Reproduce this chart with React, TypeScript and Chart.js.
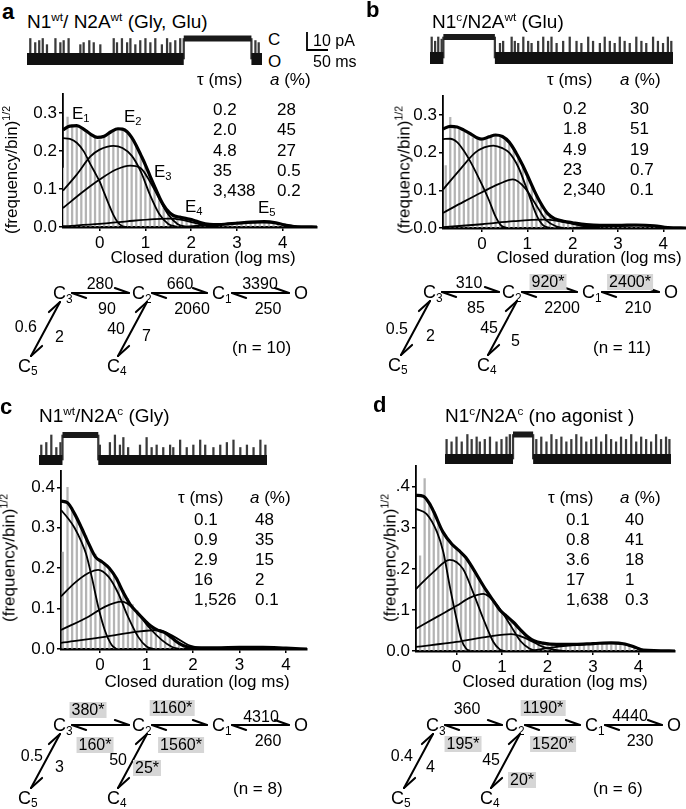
import React, { useEffect, useRef } from 'react';
import { Chart, registerables } from 'chart.js';

Chart.register(...registerables);

const FONT = '"Liberation Sans", Arial, Helvetica, sans-serif';
type Pt = [number, number];

// ---------------- histogram data ----------------
const BIN_CENTERS = [-0.8,-0.7,-0.6,-0.5,-0.4,-0.3,-0.2,-0.1,0,0.1,0.2,0.3,0.4,0.5,0.6,0.7,0.8,0.9,1,1.1,1.2,1.3,1.4,1.5,1.6,1.7,1.8,1.9,2,2.1,2.2,2.3,2.4,2.5,2.6,2.7,2.8,2.9,3,3.1,3.2,3.3,3.4,3.5,3.6,3.7,3.8,3.9,4,4.1,4.2,4.3,4.4,4.5];
const X_TICKS = [0, 1, 2, 3, 4];
const Y_TICKS_AB = [0, 0.1, 0.2, 0.3];
const Y_LABELS_AB = ['0.0', '0.1', '0.2', '0.3'];
const Y_TICKS_CD = [0, 0.1, 0.2, 0.3, 0.4];
const Y_LABELS_C = ['0.0', '0.1', '0.2', '0.3', '0.4'];
const Y_LABELS_D = ['0.0', '.1', '.2', '.3', '.4'];

const A_BARS = [0.155,0.29,0.27,0.265,0.26,0.25,0.245,0.235, 0.23,0.24,0.245,0.255,0.26,0.255,0.245,0.235,0.215,0.19, 0.165,0.135,0.11,0.085,0.06,0.045,0.035,0.028,0.025,0.022, 0.02,0.016,0.013,0.01,0.008,0.006,0.006,0.007,0.008,0.009, 0.01,0.011,0.012,0.013,0.013,0.014,0.013,0.012,0.011,0.008, 0.006,0.004,0.002,0.001,0,0];
const B_BARS = [0.166,0.294,0.27,0.262,0.255,0.25,0.24,0.235, 0.23,0.236,0.245,0.246,0.24,0.235,0.222,0.205,0.185,0.16, 0.135,0.11,0.085,0.06,0.045,0.033,0.025,0.02,0.017,0.015, 0.013,0.011,0.01,0.009,0.008,0.007,0.007,0.007,0.007,0.007, 0.007,0.007,0.008,0.008,0.008,0.008,0.007,0.007,0.006,0.005, 0.004,0.002,0,0,0,0];
const C_BARS = [0.24,0.40,0.35,0.325,0.30,0.28,0.25,0.235, 0.22,0.21,0.2,0.18,0.165,0.145,0.125,0.11,0.095,0.08, 0.068,0.058,0.05,0.045,0.04,0.034,0.025,0.017,0.01,0.007, 0.005,0.004,0.004,0.004,0.004,0.004,0.004,0.004,0.004,0.004, 0.004,0.004,0.005,0.005,0.004,0.004,0.004,0.003,0.003,0.003, 0.002,0.001,0,0,0,0];
const D_BARS = [0.232,0.42,0.36,0.34,0.31,0.29,0.27,0.26, 0.25,0.24,0.225,0.21,0.19,0.17,0.155,0.14,0.12,0.105, 0.095,0.085,0.075,0.062,0.05,0.04,0.03,0.024,0.02,0.018, 0.017,0.016,0.016,0.016,0.016,0.016,0.016,0.016,0.017,0.017, 0.018,0.019,0.02,0.02,0.02,0.019,0.017,0.015,0.012,0.008, 0.005,0.002,0,0,0,0];

const A_TOTAL: Pt[] = [[-0.8,0.256],[-0.65,0.266],[-0.5,0.267],[-0.35,0.258],[-0.2,0.245],[-0.05,0.236],[0.1,0.239],[0.25,0.251],[0.4,0.259],[0.5,0.258],[0.6,0.251],[0.7,0.236],[0.8,0.215],[0.9,0.19],[1.0,0.164],[1.1,0.135],[1.2,0.107],[1.3,0.08],[1.4,0.057],[1.5,0.041],[1.6,0.031],[1.75,0.026],[1.9,0.022],[2.05,0.018],[2.2,0.012],[2.4,0.007],[2.6,0.006],[2.8,0.008],[3.0,0.010],[3.3,0.013],[3.6,0.014],[3.85,0.011],[4.05,0.005],[4.25,0.001],[4.75,0]];
const A_E1: Pt[] = [[-0.8,0.234],[-0.65,0.232],[-0.5,0.222],[-0.35,0.2],[-0.2,0.165],[-0.1,0.143],[0,0.12],[0.1,0.09],[0.2,0.06],[0.3,0.032],[0.4,0.012],[0.5,0.002],[0.6,0]];
const A_E2: Pt[] = [[-0.8,0.096],[-0.5,0.138],[-0.2,0.186],[0,0.204],[0.3,0.214],[0.5,0.208],[0.7,0.188],[0.9,0.146],[1.1,0.085],[1.3,0.035],[1.5,0.008],[1.7,0]];
const A_E3: Pt[] = [[-0.8,0.05],[-0.35,0.094],[0,0.125],[0.35,0.151],[0.67,0.162],[0.9,0.155],[1.1,0.12],[1.3,0.075],[1.5,0.033],[1.7,0.008],[1.9,0]];
const A_E4: Pt[] = [[-0.8,0.002],[0,0.008],[0.6,0.015],[1.2,0.021],[1.5,0.022],[1.8,0.019],[2.1,0.01],[2.4,0.002],[2.6,0]];
const A_E5: Pt[] = [[1.8,0],[2.5,0.006],[3.0,0.01],[3.5,0.012],[3.8,0.011],[4.1,0.005],[4.4,0]];

const B_TOTAL: Pt[] = [[-0.86,0.263],[-0.7,0.27],[-0.55,0.268],[-0.4,0.26],[-0.25,0.25],[-0.1,0.239],[0,0.236],[0.15,0.242],[0.3,0.247],[0.45,0.243],[0.6,0.228],[0.75,0.2],[0.9,0.166],[1.0,0.14],[1.15,0.1],[1.3,0.065],[1.45,0.038],[1.6,0.025],[1.8,0.018],[2.0,0.014],[2.3,0.009],[2.6,0.007],[3.0,0.007],[3.4,0.008],[3.8,0.006],[4.1,0.001],[4.5,0]];
const B_E1: Pt[] = [[-0.86,0.236],[-0.7,0.237],[-0.55,0.228],[-0.4,0.205],[-0.25,0.175],[-0.1,0.14],[0,0.115],[0.15,0.075],[0.3,0.03],[0.42,0.007],[0.55,0]];
const B_E2: Pt[] = [[-0.86,0.102],[-0.5,0.153],[-0.15,0.2],[0.05,0.214],[0.25,0.219],[0.45,0.212],[0.6,0.2],[0.8,0.162],[1.0,0.1],[1.2,0.035],[1.35,0.007],[1.5,0]];
const B_E3: Pt[] = [[-0.86,0.04],[-0.4,0.07],[0,0.095],[0.38,0.117],[0.68,0.129],[0.95,0.106],[1.2,0.06],[1.42,0.02],[1.65,0.004],[1.8,0]];
const B_E4: Pt[] = [[-0.86,0.002],[0,0.01],[0.7,0.018],[1.36,0.022],[1.7,0.018],[2.0,0.011],[2.3,0.004],[2.6,0]];
const B_E5: Pt[] = [[2.0,0],[2.6,0.004],[3.0,0.006],[3.4,0.007],[3.8,0.005],[4.1,0.001],[4.3,0]];

const C_TOTAL: Pt[] = [[-0.84,0.366],[-0.7,0.362],[-0.55,0.335],[-0.4,0.3],[-0.25,0.262],[-0.1,0.228],[0.05,0.215],[0.2,0.2],[0.35,0.175],[0.5,0.14],[0.65,0.11],[0.8,0.09],[0.95,0.072],[1.1,0.056],[1.25,0.046],[1.4,0.04],[1.55,0.027],[1.7,0.014],[1.85,0.006],[2.0,0.003],[2.5,0.003],[3.0,0.004],[3.5,0.004],[4.0,0.002],[4.45,0]];
const C_E1: Pt[] = [[-0.84,0.344],[-0.7,0.325],[-0.55,0.3],[-0.4,0.265],[-0.3,0.235],[-0.18,0.179],[-0.04,0.105],[0.1,0.047],[0.25,0.01],[0.35,0]];
const C_E2: Pt[] = [[-0.84,0.13],[-0.55,0.163],[-0.25,0.188],[-0.04,0.196],[0.18,0.179],[0.39,0.138],[0.6,0.08],[0.82,0.03],[1.0,0.006],[1.15,0]];
const C_E3: Pt[] = [[-0.84,0.047],[-0.25,0.08],[0.11,0.105],[0.47,0.117],[0.75,0.097],[1.04,0.055],[1.33,0.022],[1.55,0.005],[1.7,0]];
const C_E4: Pt[] = [[-0.84,0.015],[0.1,0.03],[0.8,0.043],[1.25,0.047],[1.6,0.03],[1.9,0.01],[2.2,0.002],[2.4,0]];
const C_E5: Pt[] = [[1.8,0],[2.5,0.003],[3.2,0.004],[3.8,0.003],[4.2,0]];

const D_TOTAL: Pt[] = [[-0.89,0.379],[-0.73,0.377],[-0.6,0.36],[-0.5,0.339],[-0.3,0.29],[-0.1,0.26],[0.05,0.245],[0.2,0.228],[0.35,0.203],[0.5,0.175],[0.65,0.148],[0.8,0.124],[0.95,0.1],[1.1,0.085],[1.25,0.07],[1.4,0.052],[1.55,0.036],[1.7,0.025],[1.9,0.019],[2.2,0.016],[2.6,0.016],[3.0,0.018],[3.4,0.02],[3.7,0.017],[3.95,0.008],[4.1,0.002],[4.8,0]];
const D_E1: Pt[] = [[-0.89,0.346],[-0.66,0.334],[-0.43,0.29],[-0.29,0.241],[-0.15,0.159],[0,0.078],[0.1,0.03],[0.21,0.006],[0.3,0]];
const D_E2: Pt[] = [[-0.89,0.151],[-0.51,0.192],[-0.15,0.222],[0.14,0.2],[0.36,0.144],[0.59,0.078],[0.81,0.022],[0.95,0.004],[1.05,0]];
const D_E3: Pt[] = [[-0.89,0.054],[-0.4,0.085],[0,0.11],[0.3,0.13],[0.59,0.139],[0.85,0.118],[1.03,0.09],[1.2,0.06],[1.4,0.025],[1.6,0.006],[1.75,0]];
const D_E4: Pt[] = [[-0.89,0.01],[0,0.022],[0.7,0.035],[1.2,0.041],[1.5,0.032],[1.9,0.01],[2.2,0.002],[2.4,0]];
const D_E5: Pt[] = [[1.6,0],[2.2,0.01],[2.8,0.016],[3.3,0.02],[3.7,0.016],[4.0,0.006],[4.2,0]];

// ---------------- fit tables ----------------
const TAU_A = ['0.2', '2.0', '4.8', '35', '3,438'];
const AMP_A = ['28', '45', '27', '0.5', '0.2'];
const TAU_B = ['0.2', '1.8', '4.9', '23', '2,340'];
const AMP_B = ['30', '51', '19', '0.7', '0.1'];
const TAU_C = ['0.1', '0.9', '2.9', '16', '1,526'];
const AMP_C = ['48', '35', '15', '2', '0.1'];
const TAU_D = ['0.1', '0.8', '3.6', '17', '1,638'];
const AMP_D = ['40', '41', '18', '1', '0.3'];

// ---------------- kinetic schemes ----------------
// order: C3>C2, C2>C3, C2>C1, C1>C2, C1>O, O>C1, C3>C5, C5>C3, C2>C4, C4>C2
const RATES_A = ['280', '90', '660', '2060', '3390', '250', '0.6', '2', '40', '7'];
const RATES_B = ['310', '85', '920*', '2200', '2400*', '210', '0.5', '2', '45', '5'];
const RATES_C = ['380*', '160*', '1160*', '1560*', '4310', '260', '0.5', '3', '50', '25*'];
const RATES_D = ['360', '195*', '1190*', '1520*', '4440', '230', '0.4', '4', '45', '20*'];
const N_A = 10, N_B = 11, N_C = 8, N_D = 6;

// ---------------- single-channel traces ----------------
const TRACE_A_SPIKES = [1.4,3.5,5.2,6.7,8.5,12.1,14.2,15.6,17.7,22.7,24.1,26.5,28.4,31.2,36.9,38.3,40.4,42.6,44.0,46.1,48.2,50.4,52.5,54.6,57.4,59.6,61.0,63.1,65.2,97.2,98.6];
const TRACE_A_HEIGHTS = [1,0.8,0.9,1,0.7,1,0.8,0.9,1,0.7,0.8,0.9,0.8,0.7,1,0.8,1,0.8,1,0.7,0.9,1,0.8,1,0.7,1,0.8,0.9,1,0.9,0.8];
const TRACE_A_CLOSED: Pt[] = [[66.7, 95.5]];
const TRACE_B_SPIKES = [0.7,2.1,3.4,4.8,28.8,30.1,33.6,34.9,36.3,38.4,40.4,41.8,44.5,46.6,48.6,50.0,52.1,54.8,57.5,60.3,62.3,65.1,67.1,69.9,71.9,74.0,76.0,78.1,80.1,82.2,84.9,87.0,89.0,91.8,93.8,95.9,97.9,99.3];
const TRACE_B_HEIGHTS = [1,0.8,1,0.9,0.7,0.8,1,0.8,0.7,1,0.8,0.7,0.8,1,0.8,1,0.7,0.8,1,0.8,0.7,1,0.8,0.7,1,0.8,0.7,1,0.8,0.7,1,0.8,0.7,1,0.8,0.7,1,0.8];
const TRACE_B_CLOSED: Pt[] = [[5.5, 26.7]];
const TRACE_C_SPIKES = [1.0,3.2,5.4,7.6,9.4,26.7,31.1,33.3,35.5,37.0,39.1,44.3,47.2,49.4,51.6,54.5,57.5,58.9,61.9,64.8,67.7,70.7,72.9,76.5,79.5,82.4,85.3,88.3,91.2,94.1,97.1,99.3];
const TRACE_C_HEIGHTS = [0.6,0.7,1,0.5,0.7,0.6,0.7,1,0.6,0.9,0.5,0.6,0.9,0.5,0.6,0.5,0.6,0.5,0.8,0.5,0.6,0.8,0.6,0.5,0.6,0.7,0.8,0.5,0.6,0.5,0.8,0.6];
const TRACE_C_CLOSED: Pt[] = [[10.3, 26.0]];
const TRACE_D_SPIKES = [0.7,2.9,5.1,7.4,9.9,11.8,14.0,15.4,17.6,19.9,22.8,25.0,27.2,28.7,40.4,42.6,44.9,47.1,49.3,51.5,53.7,55.9,58.1,60.3,62.5,64.7,66.9,69.1,71.3,73.5,75.7,77.9,80.1,82.4,84.6,86.8,89.0,91.2,93.4,95.6,97.8,99.3];
const TRACE_D_HEIGHTS = [0.8,0.7,0.9,0.7,1,0.8,0.9,0.7,0.8,0.9,0.7,0.8,0.9,1,0.8,0.9,0.7,1,0.8,0.9,0.7,0.8,1,0.9,0.7,0.8,0.9,0.7,1,0.8,0.7,0.9,0.8,1,0.7,0.9,0.8,0.7,1,0.8,0.9,0.8];
const TRACE_D_CLOSED: Pt[] = [[30.1, 39.0]];

// ================= components =================
const toXY = (p: Pt[]) => p.map(([x, y]) => ({ x, y }));

function Histogram(props: {
  axisX: number; baseY: number; topY: number; rightX: number;
  xMin: number; xMax: number; yMax: number;
  yTicks: number[]; yLabels: string[];
  bars: number[]; total: Pt[]; comps: Pt[][];
}) {
  const ref = useRef<HTMLCanvasElement>(null);
  const yW = 58, xH = 30, padTop = 12;
  const left = props.axisX - yW;
  const top = props.topY - padTop;
  const width = Math.min(686 - left, props.rightX - left + 6);
  const padRight = width - (props.rightX - left);
  const height = props.baseY - top + xH;
  useEffect(() => {
    const font = { family: FONT, size: 17 };
    const chart = new Chart(ref.current as HTMLCanvasElement, {
      type: 'bar',
      data: {
        datasets: [
          ...props.comps.map((c) => ({
            type: 'line' as const, data: toXY(c), borderColor: '#000', borderWidth: 1.8,
            pointRadius: 0, cubicInterpolationMode: 'monotone' as const, fill: false, order: 1,
          })),
          {
            type: 'line' as const, data: toXY(props.total), borderColor: '#000', borderWidth: 3.2,
            pointRadius: 0, cubicInterpolationMode: 'monotone' as const, fill: false, order: 0,
          },
          {
            type: 'bar' as const, data: BIN_CENTERS.map((x, i) => ({ x, y: props.bars[i] })),
            backgroundColor: '#b4b4b4', barThickness: 1.6, order: 2,
          },
        ] as any,
      },
      options: {
        animation: false,
        responsive: false,
        maintainAspectRatio: false,
        layout: { padding: { top: padTop, right: padRight, left: 0, bottom: 0 } },
        plugins: { legend: { display: false }, tooltip: { enabled: false } },
        scales: {
          x: {
            type: 'linear', min: props.xMin, max: props.xMax, offset: false,
            afterBuildTicks: (s: any) => { s.ticks = X_TICKS.map((v) => ({ value: v })); },
            afterFit: (s: any) => { s.height = xH; },
            ticks: { color: '#000', font, padding: 2, maxRotation: 0, autoSkip: false, callback: (v: any) => String(v) },
            grid: { display: true, drawOnChartArea: false, drawTicks: true, tickLength: 4, color: '#000', lineWidth: 1.5, offset: false },
            border: { display: true, color: '#000', width: 2.5 },
          },
          y: {
            type: 'linear', min: 0, max: props.yMax,
            afterBuildTicks: (s: any) => { s.ticks = props.yTicks.map((v) => ({ value: v })); },
            afterFit: (s: any) => { s.width = yW; },
            ticks: { color: '#000', font, padding: 2, autoSkip: false, callback: (_v: any, i: number) => props.yLabels[i] },
            grid: { display: true, drawOnChartArea: false, drawTicks: true, tickLength: 4, color: '#000', lineWidth: 1.5 },
            border: { display: true, color: '#000', width: 1.8 },
          },
        },
      } as any,
    });
    return () => chart.destroy();
  }, []);
  return (
    <canvas ref={ref} width={width} height={height}
      style={{ position: 'absolute', left, top, width, height, display: 'block' }} />
  );
}

function Trace(props: {
  left: number; top: number; width: number; height: number;
  closedY: number; openY: number; band: number;
  spikes: number[]; heights: number[]; closed: Pt[];
}) {
  const ref = useRef<HTMLCanvasElement>(null);
  useEffect(() => {
    const ppu = (props.openY - props.closedY) / 10;
    const yMax = 10 + (props.closedY - props.top) / ppu;
    const yMin = -((props.top + props.height) - props.openY) / ppu;
    const openBand: any[] = [{ x: 0, y: 0 }];
    const closedBand: any[] = [];
    const edges: any[] = [];
    props.closed.forEach(([s, e]) => {
      openBand.push({ x: s, y: 0 }, { x: (s + e) / 2, y: null }, { x: e, y: 0 });
      closedBand.push({ x: s, y: 10 }, { x: e, y: 10 }, { x: e + 0.01, y: null });
      edges.push({ x: s, y: [0, 10] }, { x: e, y: [0, 10] });
    });
    openBand.push({ x: 100, y: 0 });
    const chart = new Chart(ref.current as HTMLCanvasElement, {
      type: 'bar',
      data: {
        datasets: [
          { type: 'line', data: openBand, borderColor: '#111', borderWidth: props.band, pointRadius: 0, spanGaps: false, order: 1 },
          { type: 'line', data: closedBand, borderColor: '#1a1a1a', borderWidth: 6, pointRadius: 0, spanGaps: false, order: 1 },
          {
            type: 'bar',
            data: [...props.spikes.map((x, i) => ({ x, y: [0, props.heights[i] * 10] })), ...edges],
            backgroundColor: '#3a3a3a', barThickness: 1.6, order: 2,
          },
        ] as any,
      },
      options: {
        animation: false, responsive: false, maintainAspectRatio: false,
        layout: { padding: 0 },
        plugins: { legend: { display: false }, tooltip: { enabled: false } },
        scales: {
          x: { type: 'linear', min: 0, max: 100, display: false, offset: false },
          y: { type: 'linear', min: yMin, max: yMax, display: false },
        },
      } as any,
    });
    return () => chart.destroy();
  }, []);
  return (
    <canvas ref={ref} width={props.width} height={props.height}
      style={{ position: 'absolute', left: props.left, top: props.top, width: props.width, height: props.height, display: 'block' }} />
  );
}

function T(props: { x: number; y: number; size?: number; anchor?: 'start' | 'middle' | 'end'; bold?: boolean; italic?: boolean; bg?: string; children: any }) {
  const size = props.size ?? 17;
  const tx = props.anchor === 'middle' ? '-50%' : props.anchor === 'end' ? '-100%' : '0';
  return (
    <div style={{
      position: 'absolute', left: props.x, top: props.y - 0.8465 * size, fontSize: size, lineHeight: 1,
      whiteSpace: 'nowrap', transform: `translateX(${tx})`, fontWeight: props.bold ? 'bold' : 'normal',
      fontStyle: props.italic ? 'italic' : 'normal', background: props.bg, padding: props.bg ? '0 2px' : 0,
    }}>{props.children}</div>
  );
}

const Sup = ({ children }: any) => <span style={{ fontSize: '0.62em', position: 'relative', top: '-0.62em' }}>{children}</span>;
const Sub = ({ children }: any) => <span style={{ fontSize: '0.66em', position: 'relative', top: '0.3em' }}>{children}</span>;

function YTitle({ cx, cy }: { cx: number; cy: number }) {
  return (
    <div style={{ position: 'absolute', left: cx, top: cy, fontSize: 17, lineHeight: 1, whiteSpace: 'nowrap', transform: 'translate(-50%,-50%) rotate(-90deg)' }}>
      (frequency/bin)<Sup>1/2</Sup>
    </div>
  );
}

function FitTable({ hx, ax, vx, avx, hy, rowY, tau, amp }: { hx: number; ax: number; vx: number; avx: number; hy: number; rowY: number[]; tau: string[]; amp: string[] }) {
  return (
    <>
      <T x={hx} y={hy}>τ (ms)</T>
      <T x={ax} y={hy}><i>a</i> (%)</T>
      {tau.map((t, i) => <T key={'t' + i} x={vx} y={rowY[i]}>{t}</T>)}
      {amp.map((t, i) => <T key={'a' + i} x={avx} y={rowY[i]}>{t}</T>)}
    </>
  );
}

function barb(px: number, py: number, dx: number, dy: number) {
  const L = 15, ang = 0.34;
  const c = Math.cos(ang), s = Math.sin(ang);
  const rx = c * dx - s * dy, ry = s * dx + c * dy;
  return [px - L * rx, py - L * ry];
}

function Arrow2({ x1, y1, x2, y2 }: { x1: number; y1: number; x2: number; y2: number }) {
  const len = Math.hypot(x2 - x1, y2 - y1);
  const dx = (x2 - x1) / len, dy = (y2 - y1) / len;
  const [bx, by] = barb(x2, y2, dx, dy);
  const [ax, ay] = barb(x1, y1, -dx, -dy);
  return (
    <g stroke="#000" strokeWidth={2} fill="none" strokeLinecap="round">
      <line x1={x1} y1={y1} x2={x2} y2={y2} />
      <line x1={x2} y1={y2} x2={bx} y2={by} />
      <line x1={x1} y1={y1} x2={ax} y2={ay} />
    </g>
  );
}

type LabelPos = [number, number, 'start' | 'middle' | 'end'];

function Scheme({ ox, oy, rates, pos, n, nPos }: { ox: number; oy: number; rates: string[]; pos: LabelPos[]; n: number; nPos: [number, number] }) {
  const st = (name: string, sub: string | null, rx: number, ry: number) => (
    <T x={ox + rx} y={oy + ry} size={18}>{name}{sub ? <Sub>{sub}</Sub> : null}</T>
  );
  return (
    <>
      <svg width={686} height={809} style={{ position: 'absolute', left: 0, top: 0, overflow: 'visible' }}>
        <Arrow2 x1={ox + 19} y1={oy} x2={ox + 76} y2={oy} />
        <Arrow2 x1={ox + 99} y1={oy} x2={ox + 154} y2={oy} />
        <Arrow2 x1={ox + 179} y1={oy} x2={ox + 236} y2={oy} />
        <Arrow2 x1={ox + 7} y1={oy + 9} x2={ox - 22} y2={oy + 63} />
        <Arrow2 x1={ox + 94} y1={oy + 9} x2={ox + 65} y2={oy + 63} />
      </svg>
      {st('C', '3', 0, 6.5)}
      {st('C', '2', 79, 6.5)}
      {st('C', '1', 159, 6.5)}
      {st('O', null, 241, 6.5)}
      {st('C', '5', -35, 79)}
      {st('C', '4', 54, 79)}
      {rates.map((r, i) => (
        <T key={i} x={ox + pos[i][0]} y={oy + pos[i][1]} size={16} anchor={pos[i][2]}
          bg={r.endsWith('*') ? '#d6d6d6' : undefined}>{r}</T>
      ))}
      <T x={ox + nPos[0]} y={oy + nPos[1]} size={17}>(n = {n})</T>
    </>
  );
}

const POS_A: LabelPos[] = [[47, -3, 'middle'], [54, 22, 'middle'], [127, -3, 'middle'], [139, 22, 'middle'], [207, -3, 'middle'], [215, 22, 'middle'], [-16, 40, 'end'], [2, 50, 'start'], [72, 42, 'end'], [89, 49, 'start']];
const POS_B: LabelPos[] = [[46, -3, 'middle'], [53, 22, 'middle'], [125, -4, 'middle'], [139, 22, 'middle'], [207, -4, 'middle'], [215, 22, 'middle'], [-15, 43, 'end'], [3, 50, 'start'], [75, 42, 'end'], [88, 55, 'start']];
const POS_C: LabelPos[] = [[35, -9, 'middle'], [42, 26, 'middle'], [119, -11, 'middle'], [128, 26, 'middle'], [208, -2, 'middle'], [215, 22, 'middle'], [-10, 37, 'end'], [2, 48, 'start'], [74, 41, 'end'], [80, 49, 'start']];
const POS_D: LabelPos[] = [[41, -10, 'middle'], [37, 25, 'middle'], [117, -11, 'middle'], [127, 25, 'middle'], [204, -3, 'middle'], [214, 22, 'middle'], [-13, 37, 'end'], [0, 48, 'start'], [74, 41, 'end'], [82, 61, 'start']];

export default function App() {
  return (
    <div style={{ position: 'absolute', left: 0, top: 0, width: 686, height: 809, background: '#fff', fontFamily: FONT, color: '#000', overflow: 'hidden' }}>
      {/* ---------- panel a ---------- */}
      <T x={2} y={20} size={22} bold>a</T>
      <T x={27} y={28} size={19}>N1<Sup>wt</Sup>/ N2A<Sup>wt</Sup> (Gly, Glu)</T>
      <Trace left={27} top={28} width={235} height={42} closedY={38.5} openY={59} band={12}
        spikes={TRACE_A_SPIKES} heights={TRACE_A_HEIGHTS} closed={TRACE_A_CLOSED} />
      <T x={268} y={45}>C</T>
      <T x={268} y={67}>O</T>
      <svg width={686} height={809} style={{ position: 'absolute', left: 0, top: 0 }}>
        <polyline points="307,32 307,50 328,50" fill="none" stroke="#000" strokeWidth={1.8} />
      </svg>
      <T x={313} y={47} size={16}>10 pA</T>
      <T x={313} y={68} size={16}>50 ms</T>
      <Histogram axisX={63} baseY={227} topY={94} rightX={317} xMin={-0.8} xMax={4.75} yMax={0.35}
        yTicks={Y_TICKS_AB} yLabels={Y_LABELS_AB} bars={A_BARS} total={A_TOTAL} comps={[A_E1, A_E2, A_E3, A_E4, A_E5]} />
      <YTitle cx={11} cy={170} />
      <T x={203} y={263} anchor="middle">Closed duration (log ms)</T>
      <FitTable hx={197} ax={270} vx={213} avx={277} hy={85} rowY={[115, 135, 156, 176, 196]} tau={TAU_A} amp={AMP_A} />
      <T x={72} y={119}>E<Sub>1</Sub></T>
      <T x={124} y={122}>E<Sub>2</Sub></T>
      <T x={154} y={177}>E<Sub>3</Sub></T>
      <T x={185} y={212}>E<Sub>4</Sub></T>
      <T x={258} y={213}>E<Sub>5</Sub></T>
      <Scheme ox={53} oy={293} rates={RATES_A} pos={POS_A} n={N_A} nPos={[179, 60]} />

      {/* ---------- panel b ---------- */}
      <T x={366} y={18} size={22} bold>b</T>
      <T x={432} y={28} size={19}>N1<Sup>c</Sup>/N2A<Sup>wt</Sup> (Glu)</T>
      <Trace left={430} top={28} width={243} height={42} closedY={37} openY={58} band={12}
        spikes={TRACE_B_SPIKES} heights={TRACE_B_HEIGHTS} closed={TRACE_B_CLOSED} />
      <Histogram axisX={443} baseY={228} topY={96} rightX={686} xMin={-0.86} xMax={4.5} yMax={0.35}
        yTicks={Y_TICKS_AB} yLabels={Y_LABELS_AB} bars={B_BARS} total={B_TOTAL} comps={[B_E1, B_E2, B_E3, B_E4, B_E5]} />
      <YTitle cx={404} cy={170} />
      <T x={589} y={263} anchor="middle">Closed duration (log ms)</T>
      <FitTable hx={547} ax={620} vx={563} avx={630} hy={85} rowY={[114, 134.5, 155, 175, 195]} tau={TAU_B} amp={AMP_B} />
      <Scheme ox={423} oy={292} rates={RATES_B} pos={POS_B} n={N_B} nPos={[170, 61]} />

      {/* ---------- panel c ---------- */}
      <T x={0} y={415} size={22} bold>c</T>
      <T x={39} y={422} size={19}>N1<Sup>wt</Sup>/N2A<Sup>c</Sup> (Gly)</T>
      <Trace left={39} top={426} width={228} height={44} closedY={435} openY={460} band={10}
        spikes={TRACE_C_SPIKES} heights={TRACE_C_HEIGHTS} closed={TRACE_C_CLOSED} />
      <Histogram axisX={61} baseY={649} topY={471} rightX={307} xMin={-0.84} xMax={4.45} yMax={0.44}
        yTicks={Y_TICKS_CD} yLabels={Y_LABELS_C} bars={C_BARS} total={C_TOTAL} comps={[C_E1, C_E2, C_E3, C_E4, C_E5]} />
      <YTitle cx={9} cy={558} />
      <T x={197} y={687} anchor="middle">Closed duration (log ms)</T>
      <FitTable hx={178} ax={250} vx={194} avx={255} hy={503} rowY={[525, 545, 565, 585, 605]} tau={TAU_C} amp={AMP_C} />
      <Scheme ox={53} oy={725} rates={RATES_C} pos={POS_C} n={N_C} nPos={[180, 69]} />

      {/* ---------- panel d ---------- */}
      <T x={373} y={413} size={22} bold>d</T>
      <T x={445} y={422} size={19}>N1<Sup>c</Sup>/N2A<Sup>c</Sup> (no agonist )</T>
      <Trace left={445} top={426} width={226} height={44} closedY={434.5} openY={459} band={10}
        spikes={TRACE_D_SPIKES} heights={TRACE_D_HEIGHTS} closed={TRACE_D_CLOSED} />
      <Histogram axisX={416} baseY={651} topY={466} rightX={675} xMin={-0.89} xMax={4.8} yMax={0.45}
        yTicks={Y_TICKS_CD} yLabels={Y_LABELS_D} bars={D_BARS} total={D_TOTAL} comps={[D_E1, D_E2, D_E3, D_E4, D_E5]} />
      <YTitle cx={390} cy={558} />
      <T x={555} y={687} anchor="middle">Closed duration (log ms)</T>
      <FitTable hx={548} ax={620} vx={566} avx={625} hy={503} rowY={[525, 545, 565, 585, 605]} tau={TAU_D} amp={AMP_D} />
      <Scheme ox={426} oy={725} rates={RATES_D} pos={POS_D} n={N_D} nPos={[167, 69]} />
    </div>
  );
}
